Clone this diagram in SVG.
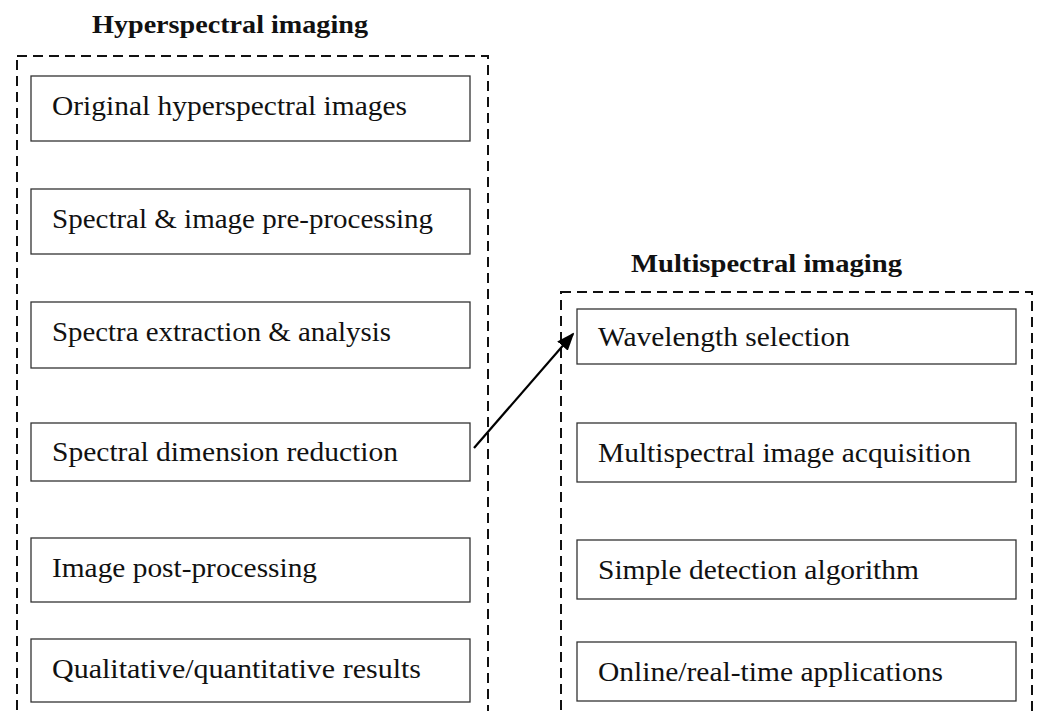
<svg xmlns="http://www.w3.org/2000/svg" width="1040" height="711" viewBox="0 0 1040 711">
<style>
.frame{fill:none;stroke:#111;stroke-width:2;stroke-dasharray:10 6}
.box{fill:#fff;stroke:#333;stroke-width:1.3}
.lbl{font-family:"Liberation Serif",serif;font-size:27px;fill:#111}
.ttl{font-family:"Liberation Serif",serif;font-size:26px;font-weight:bold;fill:#111}
.conn{stroke:#000;stroke-width:2.2;fill:none}
</style>
<defs>
<marker id="ah" markerWidth="18" markerHeight="14" refX="16" refY="7" orient="auto" markerUnits="userSpaceOnUse" viewBox="0 0 18 14">
<path d="M0,0 L18,7 L0,14 z" fill="#000"/>
</marker>
</defs>
<rect width="1040" height="711" fill="#fff"/>
<g id="hyper-group">
<text class="ttl" x="92" y="33" textLength="276" lengthAdjust="spacingAndGlyphs">Hyperspectral imaging</text>
<rect class="frame" x="17" y="56" width="471" height="680"/>
</g>
<g id="multi-group">
<text class="ttl" x="631" y="272" textLength="271" lengthAdjust="spacingAndGlyphs">Multispectral imaging</text>
<rect class="frame" x="561" y="292" width="471" height="450"/>
</g>
<g id="h1"><rect class="box" x="31" y="76" width="439" height="65"/><text class="lbl" x="52" y="115" textLength="355" lengthAdjust="spacingAndGlyphs">Original hyperspectral images</text></g>
<g id="h2"><rect class="box" x="31" y="189" width="439" height="65"/><text class="lbl" x="52" y="228" textLength="381" lengthAdjust="spacingAndGlyphs">Spectral &amp; image pre-processing</text></g>
<g id="h3"><rect class="box" x="31" y="302" width="439" height="66"/><text class="lbl" x="52" y="341" textLength="339" lengthAdjust="spacingAndGlyphs">Spectra extraction &amp; analysis</text></g>
<g id="h4"><rect class="box" x="31" y="423" width="439" height="58"/><text class="lbl" x="52" y="461" textLength="346" lengthAdjust="spacingAndGlyphs">Spectral dimension reduction</text></g>
<g id="h5"><rect class="box" x="31" y="538" width="439" height="64"/><text class="lbl" x="52" y="577" textLength="265" lengthAdjust="spacingAndGlyphs">Image post-processing</text></g>
<g id="h6"><rect class="box" x="31" y="639" width="439" height="63"/><text class="lbl" x="52" y="678" textLength="369" lengthAdjust="spacingAndGlyphs">Qualitative/quantitative results</text></g>
<g id="m1"><rect class="box" x="577" y="309" width="439" height="55"/><text class="lbl" x="598" y="346" textLength="252" lengthAdjust="spacingAndGlyphs">Wavelength selection</text></g>
<g id="m2"><rect class="box" x="577" y="423" width="439" height="59"/><text class="lbl" x="598" y="462" textLength="373" lengthAdjust="spacingAndGlyphs">Multispectral image acquisition</text></g>
<g id="m3"><rect class="box" x="577" y="540" width="439" height="59"/><text class="lbl" x="598" y="579" textLength="321" lengthAdjust="spacingAndGlyphs">Simple detection algorithm</text></g>
<g id="m4"><rect class="box" x="577" y="642" width="439" height="59"/><text class="lbl" x="598" y="681" textLength="345" lengthAdjust="spacingAndGlyphs">Online/real-time applications</text></g>
<g id="connectors">
<line class="conn" x1="474" y1="448" x2="573" y2="334" marker-end="url(#ah)"/>
</g>
</svg>
